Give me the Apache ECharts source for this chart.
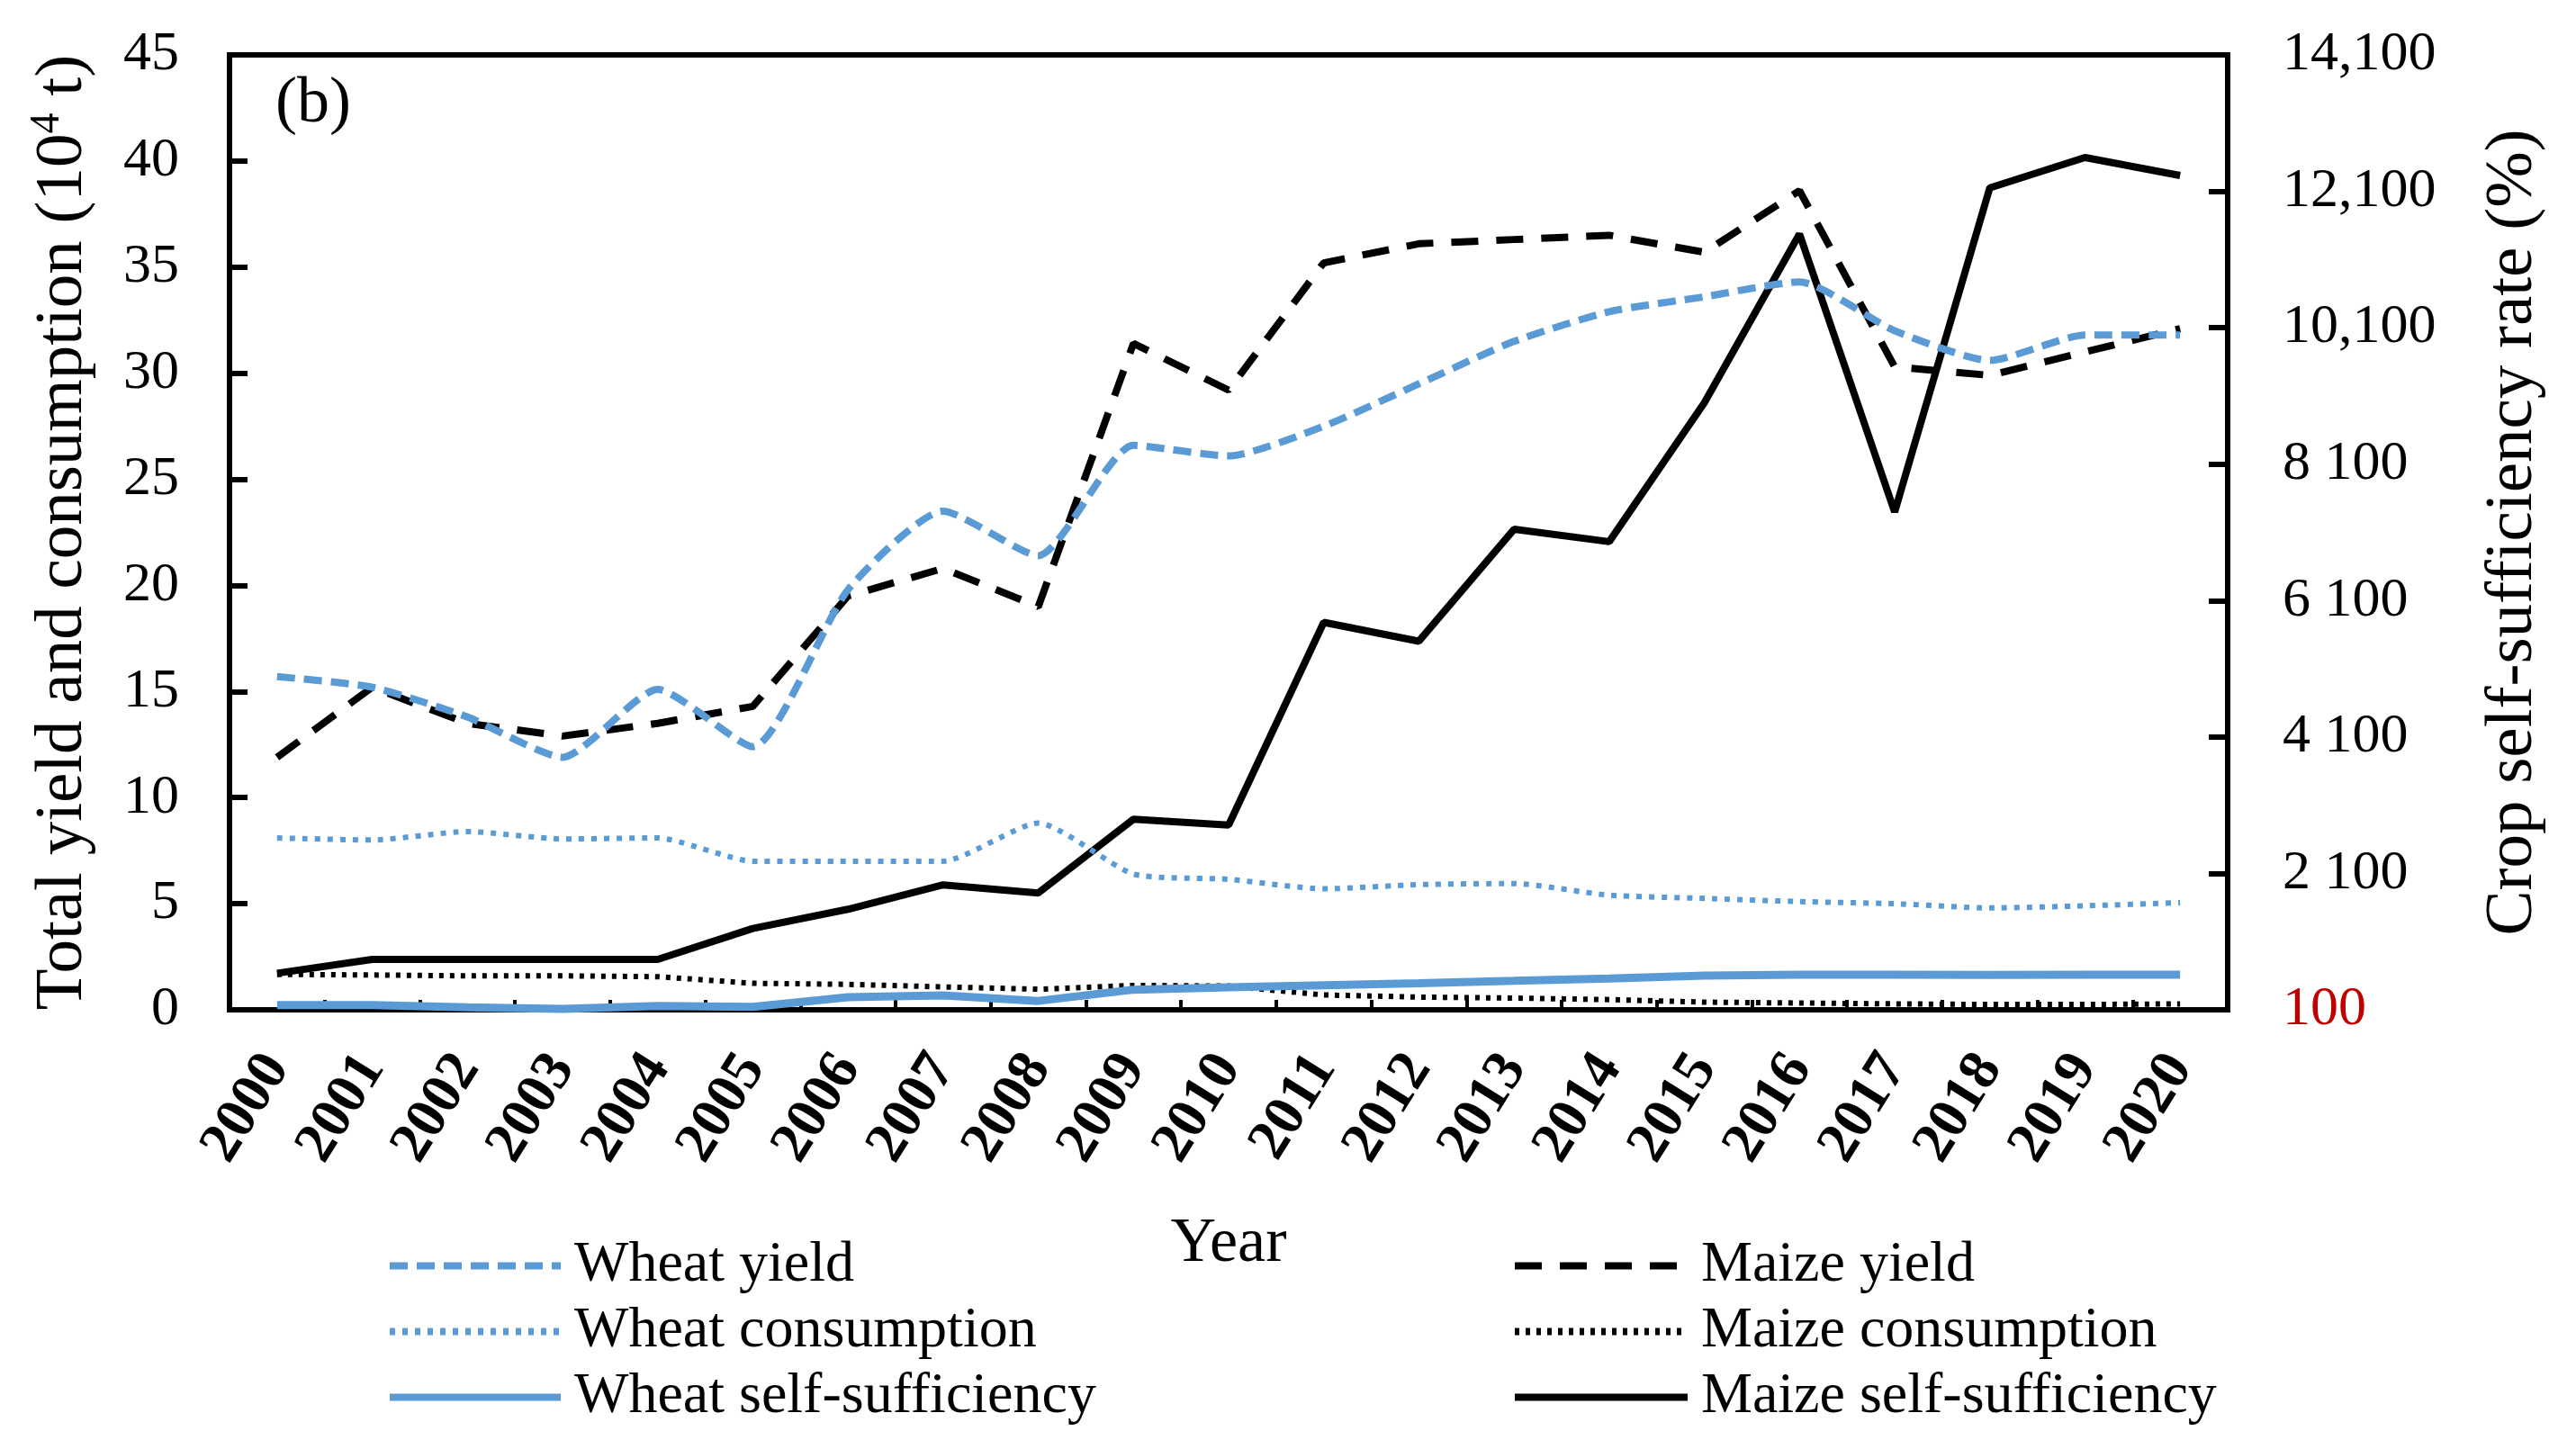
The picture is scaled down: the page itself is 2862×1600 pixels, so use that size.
<!DOCTYPE html>
<html>
<head>
<meta charset="utf-8">
<script src="https://cdn.jsdelivr.net/npm/echarts@6/dist/echarts.min.js"></script>
<style>
html,body{margin:0;padding:0;background:#fff;}
#chart{width:2862px;height:1600px;}
</style>
</head>
<body>
<div id="chart"></div>
<script>
var years = ['2000','2001','2002','2003','2004','2005','2006','2007','2008','2009','2010','2011','2012','2013','2014','2015','2016','2017','2018','2019','2020'];
var wheatYield = [15.7, 15.2, 13.8, 11.9, 15.1, 12.4, 19.8, 23.5, 21.4, 26.6, 26.1, 27.5, 29.5, 31.5, 32.9, 33.6, 34.3, 32.0, 30.6, 31.8, 31.8];
var wheatConsumption = [8.1, 8.0, 8.4, 8.05, 8.1, 7.0, 7.0, 7.0, 8.8, 6.4, 6.15, 5.7, 5.9, 5.95, 5.4, 5.25, 5.1, 5.0, 4.8, 4.9, 5.05];
var wheatSelf = [170, 170, 135, 113, 156, 143, 286, 311, 230, 395, 430, 460, 490, 524, 560, 600, 614, 614, 612, 614, 614];
var maizeYield = [11.9, 15.2, 13.5, 12.9, 13.5, 14.3, 19.5, 20.8, 19.0, 31.4, 29.2, 35.2, 36.1, 36.3, 36.5, 35.7, 38.6, 30.3, 29.9, 31.0, 32.1];
var maizeConsumption = [1.67, 1.64, 1.6, 1.6, 1.56, 1.25, 1.2, 1.08, 0.97, 1.15, 1.12, 0.7, 0.6, 0.55, 0.48, 0.36, 0.32, 0.28, 0.25, 0.25, 0.28];
var maizeSelf = [636, 838, 838, 838, 838, 1292, 1574, 1932, 1813, 2894, 2808, 5780, 5504, 7145, 6963, 9000, 11474, 7400, 12151, 12596, 12332];
var leftTicks = {min: 0, max: 45, interval: 5};
var rightTicks = {min: 100, max: 14100, interval: 2000};

var FONT = "'Liberation Serif', 'Times New Roman', serif";
var BLUE = '#5B9BD5';
var chart = echarts.init(document.getElementById('chart'), null, {renderer: 'canvas'});

function rightFmt(v) {
  if (v === 100) return '{red|100}';
  var th = Math.floor(v / 1000), rest = v % 1000;
  var r = ('00' + rest).slice(-3);
  return th >= 10 ? th + ',' + r : th + ' ' + r;
}

var legendCommon = {
  orient: 'vertical', top: 1369,
  itemHeight: 26, itemGap: 8,
  itemStyle: {opacity: 0},
  lineStyle: {width: 8},
  textStyle: {fontFamily: FONT, fontSize: 64, color: '#000', lineHeight: 65, padding: [0, 0, 0, 10]}
};

var option = {
  animation: false,
  backgroundColor: '#fff',
  textStyle: {fontFamily: FONT, color: '#000'},
  grid: {left: 255, right: 387, top: 61, bottom: 478, show: true, borderColor: '#000', borderWidth: 6, containLabel: false},
  legend: [
    Object.assign({}, legendCommon, {
      data: ['Wheat yield', 'Wheat consumption', 'Wheat self-sufficiency'],
      left: 424, itemWidth: 190
    }),
    Object.assign({}, legendCommon, {
      data: ['Maize yield', 'Maize consumption', 'Maize self-sufficiency'],
      left: 1674, itemWidth: 192
    })
  ],
  graphic: [
    {type: 'text', left: 306, top: 80, style: {text: '(b)', font: '72px ' + FONT, fill: '#000'}}
  ],
  xAxis: {
    type: 'category', data: years, boundaryGap: true,
    name: 'Year', nameLocation: 'middle', nameGap: 226,
    nameTextStyle: {fontFamily: FONT, fontSize: 70, color: '#000'},
    axisLine: {show: true, lineStyle: {color: '#000', width: 6}},
    axisTick: {show: true, inside: true, length: 11, interval: 0, lineStyle: {color: '#000', width: 4}},
    axisLabel: {interval: 0, rotate: 58, margin: 55, padding: [92, 0, 0, 0], verticalAlign: 'middle',
      fontFamily: FONT, fontSize: 64, fontWeight: 'bold', color: '#000'},
    splitLine: {show: false}
  },
  yAxis: [
    {
      type: 'value', min: leftTicks.min, max: leftTicks.max, interval: leftTicks.interval, position: 'left',
      name: 'Total yield and consumption (10{sup|4} t)', nameLocation: 'middle', nameRotate: 90, nameGap: 145,
      nameTextStyle: {fontFamily: FONT, fontSize: 75, color: '#000', lineHeight: 80,
        rich: {sup: {fontFamily: FONT, fontSize: 46, color: '#000', verticalAlign: 'top', lineHeight: 80, padding: [0, 0, 30, 0]}}},
      axisLine: {show: true, lineStyle: {color: '#000', width: 6}},
      axisTick: {show: true, inside: true, length: 20, lineStyle: {color: '#000', width: 6}},
      axisLabel: {margin: 56, fontFamily: FONT, fontSize: 62, color: '#000'},
      splitLine: {show: false}
    },
    {
      type: 'value', min: rightTicks.min, max: rightTicks.max, interval: rightTicks.interval, position: 'right',
      name: 'Crop self-sufficiency rate (%)', nameLocation: 'middle', nameRotate: 90, nameGap: 280,
      nameTextStyle: {fontFamily: FONT, fontSize: 75, color: '#000'},
      axisLine: {show: true, lineStyle: {color: '#000', width: 6}},
      axisTick: {show: true, inside: true, length: 21, lineStyle: {color: '#000', width: 6}},
      axisLabel: {margin: 61, fontFamily: FONT, fontSize: 62, color: '#000', formatter: rightFmt,
        rich: {red: {fontFamily: FONT, fontSize: 62, color: '#C00000'}}},
      splitLine: {show: false}
    }
  ],
  series: [
    {name: 'Maize self-sufficiency', type: 'line', yAxisIndex: 1, data: maizeSelf, symbol: 'none',
      lineStyle: {color: '#000', width: 8, type: 'solid'}, itemStyle: {color: '#000'}, z: 3},
    {name: 'Maize yield', type: 'line', yAxisIndex: 0, data: maizeYield, symbol: 'none',
      lineStyle: {color: '#000', width: 8, type: [30, 20]}, itemStyle: {color: '#000'}, z: 4},
    {name: 'Maize consumption', type: 'line', yAxisIndex: 0, data: maizeConsumption, symbol: 'none',
      lineStyle: {color: '#000', width: 6, type: [5, 7]}, itemStyle: {color: '#000'}, z: 4},
    {name: 'Wheat yield', type: 'line', yAxisIndex: 0, data: wheatYield, symbol: 'none', smooth: 0.2,
      lineStyle: {color: BLUE, width: 8, type: [20, 10]}, itemStyle: {color: BLUE}, z: 5},
    {name: 'Wheat consumption', type: 'line', yAxisIndex: 0, data: wheatConsumption, symbol: 'none', smooth: 0.2,
      lineStyle: {color: BLUE, width: 6, type: [6, 8]}, itemStyle: {color: BLUE}, z: 5},
    {name: 'Wheat self-sufficiency', type: 'line', yAxisIndex: 1, data: wheatSelf, symbol: 'none',
      lineStyle: {color: BLUE, width: 9, type: 'solid'}, itemStyle: {color: BLUE}, z: 5}
  ]
};
chart.setOption(option);
</script>
</body>
</html>
